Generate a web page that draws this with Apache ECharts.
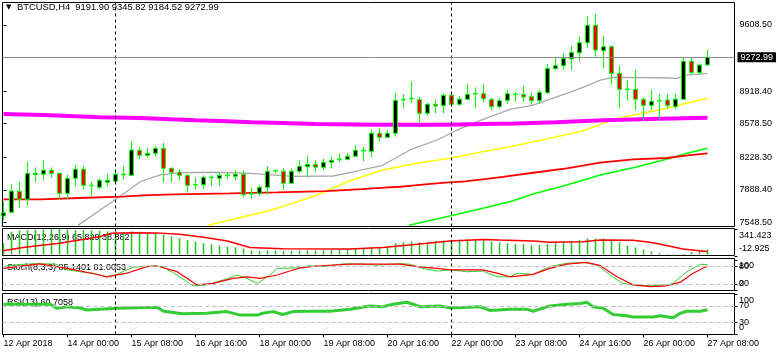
<!DOCTYPE html>
<html><head><meta charset="utf-8">
<script src="https://cdn.jsdelivr.net/npm/echarts@6/dist/echarts.min.js"></script>
<style>html,body{margin:0;padding:0;background:#fff;}#c{width:777px;height:356px;}</style>
</head><body><div id="c"></div>
<script>
// ---------- data ----------
const headerText = 'BTCUSD,H4  9191.90 9345.82 9184.52 9272.99';
const macdTitle = 'MACD(12,26,9) 65.829 38.882';
const stochTitle = 'Stoch(8,3,3) 85.1401 81.0053';
const rsiTitle = 'RSI(13) 60.7058';
const timeLabels = ['12 Apr 2018','14 Apr 00:00','15 Apr 08:00','16 Apr 16:00','18 Apr 00:00','19 Apr 08:00','20 Apr 16:00','22 Apr 00:00','23 Apr 08:00','24 Apr 16:00','26 Apr 00:00','27 Apr 08:00'];
const timeLabelIdx = [0,8,16,24,32,40,48,56,64,72,80,88];
const separators = [14, 56];
const lastPrice = 9272.99;
const priceTicks = [9608.50, 8918.40, 8578.50, 8228.30, 7888.40, 7548.50];
// [open, close, low, high]
const candles = [
[7614,7649,7573,7764],[7653,7875,7648,7948],[7872,7789,7701,7969],[7789,8060,7722,8178],[8046,8060,7969,8123],
[8050,8092,7983,8199],[8092,8060,8014,8123],[8060,7851,7789,8071],[7851,8008,7789,8046],[8008,8102,7920,8147],
[8102,7935,7893,8136],[7930,7936,7826,7972],[7914,7987,7893,8008],[7966,7987,7920,8053],[7977,8050,7962,8102],
[8044,8052,7998,8136],[8039,8303,8030,8397],[8300,8248,8210,8332],[8248,8269,8234,8324],[8269,8321,8234,8345],
[8321,8112,7962,8377],[8112,8071,7969,8123],[8071,8039,7987,8102],[8039,7935,7858,8045],[7938,7944,7893,8018],
[7941,8018,7899,8039],[8015,8021,7928,8039],[8008,8039,7928,8071],[8036,8042,7998,8071],[8029,8050,7987,8092],
[8050,7837,7810,8092],[7844,7850,7795,7904],[7851,7914,7826,7935],[7914,8081,7841,8133],[8084,8090,8060,8102],
[8081,7956,7889,8112],[7956,8081,7952,8112],[8081,8133,8060,8196],[8129,8154,8018,8248],[8154,8123,8071,8196],
[8123,8175,8092,8213],[8175,8196,8112,8234],[8203,8210,8178,8269],[8206,8238,8196,8269],[8238,8300,8230,8353],
[8293,8300,8186,8332],[8290,8478,8227,8520],[8478,8436,8390,8530],[8436,8478,8430,8509],[8478,8822,8442,8899],
[8826,8832,8735,8885],[8836,8843,8797,9021],[8829,8687,8582,8857],[8687,8781,8666,8797],[8781,8763,8687,8833],
[8766,8875,8687,8896],[8875,8781,8756,8896],[8781,8833,8763,8867],[8833,8885,8826,8989],[8888,8894,8745,8958],
[8891,8839,8802,8989],[8833,8756,8724,8850],[8756,8818,8739,8843],[8822,8891,8784,8930],[8882,8888,8808,8912],
[8881,8857,8808,8972],[8860,8818,8773,8902],[8818,8906,8784,8930],[8902,9156,8888,9201],[9152,9184,9146,9271],
[9184,9261,9139,9313],[9254,9323,9139,9389],[9319,9424,9233,9486],[9424,9605,9371,9702],[9605,9347,9278,9723],
[9340,9382,9160,9494],[9382,9104,8985,9397],[9104,8937,8745,9180],[8934,8940,8826,9034],[8937,8833,8721,9139],
[8833,8770,8609,8854],[8770,8812,8721,8930],[8815,8821,8624,8888],[8825,8770,8739,8888],[8756,8833,8728,8888],
[8833,9230,8826,9261],[9230,9111,9097,9271],[9111,9190,9087,9209],[9191.90,9272.99,9184.52,9345.82]
];
// moving averages: [bar index, price]
const maMagenta = [[0,8680],[5,8669],[9,8655],[12,8645],[17,8638],[21,8624],[24,8614],[28,8603],[31,8593],[35,8585],[39,8575],[47,8568],[55,8568],[60,8575],[64,8580],[69,8592],[72,8603],[75,8614],[82,8630],[88,8641]];
const maRed = [[0,7789],[4.6,7789],[10.4,7805],[14.9,7816],[17.4,7830],[21.4,7841],[28.3,7851],[34.2,7862],[40.3,7875],[44.8,7896],[47.6,7910],[49.6,7920],[51.4,7935],[53.4,7949],[55.3,7962],[57.7,7977],[60.4,8001],[62.4,8022],[66.2,8066],[70.4,8112],[74.6,8171],[78.7,8206],[82.9,8220],[85.8,8251],[88,8269]];
const maGray = [[9.3,7517],[13.9,7782],[17.1,7973],[19.6,8043],[22.1,8067],[26.7,8071],[30.8,8060],[36.2,8029],[41.2,8032],[43.7,8074],[47.4,8144],[50.8,8304],[54.2,8408],[56.7,8512],[59.2,8599],[63.3,8728],[66.2,8773],[70.4,8895],[72.9,8972],[74.6,9034],[76.2,9062],[82.4,9058],[84.2,9052],[85.4,9086],[88,9104]];
const maYellow = [[25.6,7517],[32.1,7649],[34.9,7712],[39.2,7834],[43.3,7983],[47.4,8095],[51.7,8165],[55.8,8217],[59.9,8286],[63.3,8338],[67.7,8415],[72.4,8502],[74.9,8582],[77.4,8645],[79.9,8687],[82.9,8739],[85.4,8791],[88,8843]];
const maGreen = [[50.7,7517],[55.8,7614],[59.9,7695],[63.3,7764],[66.2,7844],[70.4,7938],[74.6,8042],[78.7,8119],[82.9,8206],[85.4,8269],[88,8321]];
// MACD
const macdHist = [148,300,316,320,325,330,335,341.423,330,322,322,318,312,305,300,295,305,300,290,280,262,240,215,190,170,150,135,120,105,95,80,55,45,55,55,50,50,52,55,55,57,60,62,65,72,78,95,100,105,150,160,170,160,165,175,185,195,195,200,195,185,170,160,148,140,140,126,126,140,150,160,180,190,211,211,211,190,160,117,95,63,40,20,8,-12.925,10,30,45,65.829];
const macdSignal = [[0,50],[2,85],[4.5,117],[6.8,145],[9.5,190],[12,234],[13.5,278],[16,287],[19,284],[22,265],[25,227],[28,177],[30.8,92],[34.9,76],[43.3,72],[47.4,92],[51.7,135],[55.8,177],[59.9,198],[62,190],[66.2,177],[68.3,160],[72.4,168],[74.6,190],[78.7,186],[80.8,160],[82.9,117],[84.9,72],[87,50],[88,38.882]];
const macdLabelVals = [341.423, -12.925];
const macdLabelTxt = ['341.423', '-12.925'];
// Stochastic
const stochMain = [[0,79],[2,86],[4.5,89],[6.5,87],[8,68],[9.5,62],[11.2,57],[12.9,45],[14,51],[15.4,68],[16.2,77],[18.7,81],[19.9,79],[21.7,51],[22.9,29],[23.7,15],[25.4,18],[27.9,38],[29.2,51],[30.4,40],[31.8,23],[33.3,51],[34.2,73],[37.1,75],[38.3,82],[39.9,79],[42.4,88],[44.6,88],[46.7,84],[49.6,89],[50.8,87],[52.4,73],[54.2,64],[55.9,68],[57.9,62],[59.9,64],[61.7,45],[63.3,45],[64.2,57],[66.2,53],[68.3,79],[70.4,90],[72.5,93],[74.2,84],[75.8,51],[77.4,23],[78.7,18],[80.8,15],[82.9,18],[83.7,23],[85.4,62],[87.1,87],[88,85.1401]];
const stochSignal = [[0,73],[4.5,88],[8,73],[12,51],[12.9,45],[15.4,57],[17.9,79],[19.2,81],[21.7,62],[24.2,18],[26.2,23],[28.7,40],[30.4,45],[32.1,40],[34.2,51],[37.1,75],[39.2,81],[43.3,87],[49.6,87],[51.7,79],[54.2,73],[55.9,68],[59.9,68],[61.7,57],[63.3,45],[66.2,53],[68.3,73],[70.4,87],[72.9,93],[74.6,82],[76.7,45],[78.7,18],[80.8,12],[82.9,15],[84.6,27],[86.2,57],[88,81.0053]];
const stochLevels = [80, 20];
const stochLabelVals = [100, 80, 20, 0];
const stochLabelTxt = ['100', '80', '20', '0'];
// RSI
const rsiLine = [[0,74],[5.8,74],[6.7,64],[7.9,68],[9.6,65],[10.4,60],[14.2,64],[19.2,67],[20,57],[22.4,51],[25.4,52],[27.9,56],[29.6,47.5],[31.7,47.5],[32.4,52],[33.7,56],[34.9,49],[36.2,56],[38.1,57],[40.8,57],[43.3,62],[45.8,70],[47.4,68],[48.7,74],[50.4,79],[51.2,74],[52.1,68],[54.6,70],[55.9,65],[59.6,68],[60.8,59],[63.3,62],[65.4,62],[66.2,57],[68.3,70],[70.4,74],[72.1,76],[72.9,79],[73.7,68],[74.9,65],[76.2,49],[77.9,46],[78.7,43],[81.2,43],[82.1,46],[83.7,41],[84.6,52],[85.4,57],[87.1,57],[88,60.7058]];
const rsiLevels = [70, 30];
const rsiLabelVals = [100, 70, 30, 0];
const rsiLabelTxt = ['100', '70', '30', '0'];

// ---------- layout / style ----------
const FONT = "'Liberation Sans', Arial, sans-serif";
const L = 2.5, W = 732;
const grids = [
  {left: L, top: 2.5, width: W, height: 224},
  {left: L, top: 228.5, width: W, height: 27},
  {left: L, top: 258.5, width: W, height: 32},
  {left: L, top: 293.5, width: W, height: 41}
];
const yRanges = [[7504.9, 9843.4], [-12.925, 341.423], [-0.7, 106], [-0.2, 100.5]];
const XMIN = -0.125, XMAX = 91.375;

const chart = echarts.init(document.getElementById('c'), null, {renderer: 'canvas'});

const sepLine = separators.map(v => ({xAxis: v, lineStyle: {color: '#000', type: [3, 3], width: 1}, label: {show: false}}));
function sepMark(extra) {
  return {silent: true, symbol: 'none', animation: false, label: {show: false},
    data: sepLine.concat(extra || [])};
}
function levelLines(levels) {
  return levels.map(v => ({yAxis: v, lineStyle: {color: '#c0c0c0', type: [4, 3], width: 1}, label: {show: false}}));
}

const xAxes = grids.map((g, k) => ({
  type: 'value', gridIndex: k, min: XMIN, max: XMAX,
  axisLine: {show: false}, splitLine: {show: false},
  axisTick: k === 3 ? {show: true, customValues: timeLabelIdx, length: 3, lineStyle: {color: '#000'}} : {show: false},
  axisLabel: k === 3 ? {show: true, customValues: timeLabelIdx, align: 'left', margin: 5, fontSize: 9, fontFamily: FONT, color: '#000',
      formatter: v => timeLabels[timeLabelIdx.indexOf(Math.round(v))] || ''} : {show: false}
}));
const yAxes = grids.map((g, k) => ({
  type: 'value', gridIndex: k, position: 'right', min: yRanges[k][0], max: yRanges[k][1],
  axisLine: {show: false}, splitLine: {show: false},
  axisTick: k === 0 ? {show: true, customValues: priceTicks, length: 3, lineStyle: {color: '#000'}} : {show: false},
  axisLabel: k === 0 ? {show: true, customValues: priceTicks, margin: 5, fontSize: 9, fontFamily: FONT, color: '#000',
      formatter: v => v.toFixed(2)} : {show: false}
}));

function lineS(data, color, width, xi, extra) {
  return Object.assign({type: 'line', xAxisIndex: xi, yAxisIndex: xi, data: data, showSymbol: false, symbol: 'none',
    clip: true, silent: true, lineStyle: {color: color, width: width}, z: 2}, extra || {});
}

const series = [
  lineS(maGray, '#a9a9a9', 1.3, 0),
  lineS(maYellow, '#ffff00', 1.5, 0),
  lineS(maGreen, '#00ff00', 1.5, 0),
  lineS(maRed, '#ff0000', 1.8, 0),
  lineS(maMagenta, '#ff00ff', 4, 0),
  {
    type: 'candlestick', xAxisIndex: 0, yAxisIndex: 0, z: 3, barWidth: 4, silent: true,
    data: candles.map((c, i) => [i, c[0], c[1], c[2], c[3]]),
    itemStyle: {color: '#000000', color0: '#ff0000', borderColor: '#00ff00', borderColor0: '#00ff00', borderWidth: 1},
    markLine: sepMark([{yAxis: lastPrice, lineStyle: {color: '#8c8c8c', type: 'solid', width: 1},
      label: {show: true, position: 'end', formatter: lastPrice.toFixed(2), backgroundColor: '#000', color: '#fff',
        fontSize: 9, fontFamily: FONT, padding: [1, 3, 0, 3], distance: 3}}])
  },
  {
    type: 'bar', xAxisIndex: 1, yAxisIndex: 1, barWidth: 1.6, silent: true,
    data: macdHist.map((v, i) => [i, v]), itemStyle: {color: '#2ec42e'},
    markLine: sepMark()
  },
  lineS(macdSignal, '#ff0000', 1.5, 1, {z: 3}),
  lineS(stochMain, '#32cd32', 1, 2, {markLine: sepMark(levelLines(stochLevels))}),
  lineS(stochSignal, '#ff0000', 1.2, 2),
  lineS(rsiLine, '#32cd32', 3, 3, {markLine: sepMark(levelLines(rsiLevels))})
];

chart.setOption({
  animation: false,
  backgroundColor: '#ffffff',
  grid: grids.map(g => Object.assign({show: true, borderColor: '#000', borderWidth: 1, backgroundColor: 'transparent', containLabel: false}, g)),
  xAxis: xAxes,
  yAxis: yAxes,
  series: series
});

// ---------- texts ----------
const gfx = [
  {type: 'text', left: 6, top: 4, style: {text: '\u25BC', font: "7px 'DejaVu Sans'", fill: '#000'}},
  {type: 'text', left: 17, top: 3, style: {text: headerText, font: '9.4px ' + FONT, fill: '#000'}}
];
const titles = [[macdTitle, 1], [stochTitle, 2], [rsiTitle, 3]];
titles.forEach(([t, k]) => {
  gfx.push({type: 'text', x: 7, y: grids[k].top + 9, style: {text: t, font: '9px ' + FONT, fill: '#000', textVerticalAlign: 'middle'}});
});
const panelLabels = [[macdLabelVals, macdLabelTxt, 1], [stochLabelVals, stochLabelTxt, 2], [rsiLabelVals, rsiLabelTxt, 3]];
panelLabels.forEach(([vals, txts, k]) => {
  const top = grids[k].top, bot = grids[k].top + grids[k].height;
  vals.forEach((v, j) => {
    const raw = chart.convertToPixel({yAxisIndex: k}, v);
    const py = Math.min(Math.max(raw, top + 7), bot - 6.5);
    gfx.push({type: 'text', x: L + W + 4.5, y: py, style: {text: txts[j], font: '9px ' + FONT, fill: '#000', textVerticalAlign: 'middle'}});
    const ty = Math.round(raw) + 0.5;
    gfx.push({type: 'line', shape: {x1: L + W, y1: ty, x2: L + W + 3, y2: ty}, style: {stroke: '#000', lineWidth: 1}});
  });
});
chart.setOption({graphic: gfx});
</script>
</body></html>
